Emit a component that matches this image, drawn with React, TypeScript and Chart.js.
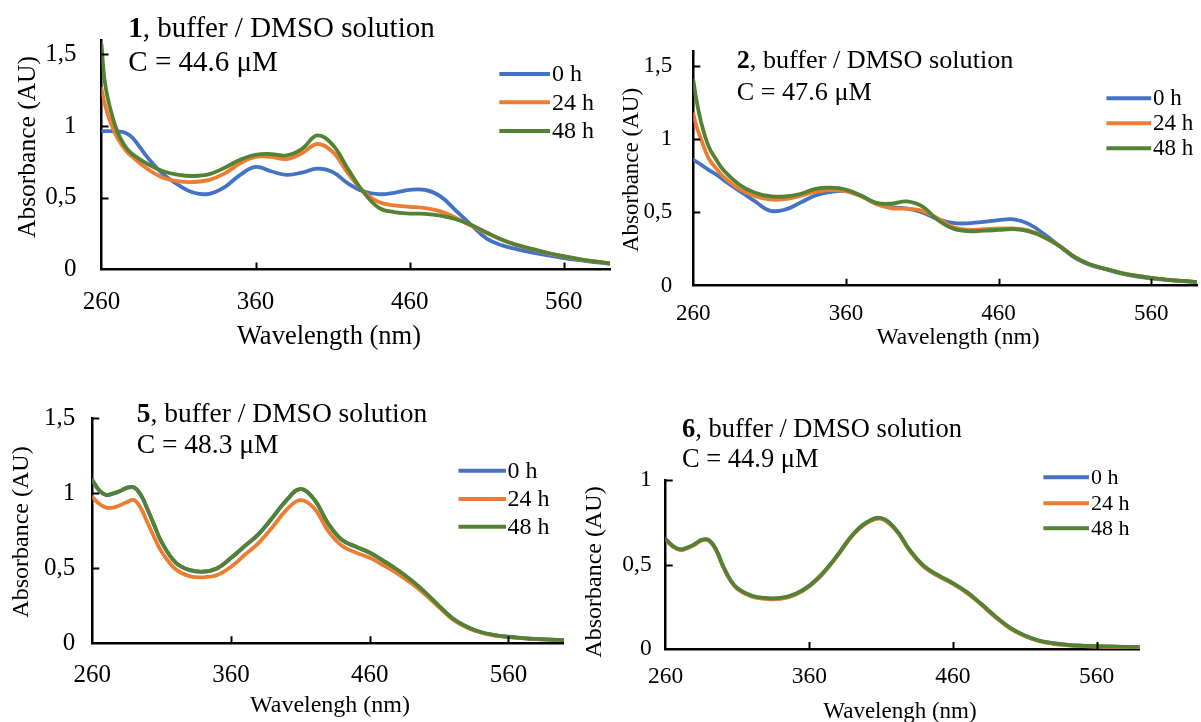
import React, { useEffect, useRef } from "react";
import { Chart, registerables } from "chart.js";

Chart.register(...registerables);

const FONT = '"Liberation Serif", "Times New Roman", serif';

// ---------- shared labels ----------
const SERIES_LABELS = ["0 h", "24 h", "48 h"];
const SERIES_COLORS = ["#4472C4", "#ED7D31", "#548235"];
const X_TICKS = [260, 360, 460, 560];
const Y_TICKS_A = [0, 0.5, 1, 1.5];
const Y_TICKS_B = [0, 0.5, 1];

// ---------- panel 1 ----------
const WL_1 = [260, 262, 265, 270, 275, 280, 290, 300, 310, 320, 330, 340, 350, 360, 370, 380, 390, 400, 410, 420, 430, 440, 450, 460, 470, 480, 490, 500, 510, 520, 530, 540, 550, 560, 570, 580, 590];
const P1_0H = [0.965, 0.965, 0.965, 0.962, 0.955, 0.92, 0.78, 0.665, 0.588, 0.535, 0.528, 0.575, 0.66, 0.715, 0.685, 0.66, 0.675, 0.703, 0.68, 0.6, 0.545, 0.525, 0.535, 0.555, 0.555, 0.51, 0.41, 0.31, 0.215, 0.168, 0.14, 0.117, 0.098, 0.08, 0.065, 0.052, 0.04];
const P1_24H = [1.26, 1.16, 1.05, 0.925, 0.84, 0.785, 0.7, 0.64, 0.615, 0.61, 0.625, 0.67, 0.74, 0.785, 0.785, 0.77, 0.81, 0.875, 0.82, 0.67, 0.545, 0.47, 0.447, 0.437, 0.428, 0.405, 0.36, 0.305, 0.254, 0.205, 0.168, 0.14, 0.113, 0.091, 0.071, 0.056, 0.042];
const P1_48H = [1.57, 1.32, 1.15, 0.97, 0.865, 0.805, 0.735, 0.685, 0.66, 0.652, 0.665, 0.71, 0.765, 0.8, 0.805, 0.795, 0.84, 0.935, 0.87, 0.7, 0.54, 0.43, 0.4, 0.39, 0.388, 0.375, 0.35, 0.31, 0.258, 0.208, 0.17, 0.142, 0.115, 0.093, 0.073, 0.057, 0.043];

// ---------- panel 2 ----------
const WL_2 = [260, 262, 265, 270, 275, 280, 290, 300, 310, 320, 330, 340, 350, 360, 370, 380, 390, 400, 410, 420, 430, 440, 450, 460, 470, 480, 490, 500, 510, 520, 530, 540, 550, 560, 570, 580, 590];
const P2_0H = [0.857, 0.845, 0.825, 0.79, 0.758, 0.72, 0.648, 0.578, 0.512, 0.518, 0.565, 0.615, 0.64, 0.645, 0.61, 0.56, 0.535, 0.525, 0.5, 0.455, 0.428, 0.425, 0.435, 0.447, 0.452, 0.42, 0.35, 0.27, 0.19, 0.142, 0.113, 0.083, 0.063, 0.05, 0.04, 0.032, 0.026];
const P2_24H = [1.17, 1.09, 1.0, 0.87, 0.8, 0.74, 0.66, 0.612, 0.588, 0.59, 0.612, 0.64, 0.652, 0.645, 0.61, 0.555, 0.528, 0.525, 0.51, 0.46, 0.4, 0.382, 0.385, 0.39, 0.39, 0.375, 0.33, 0.27, 0.195, 0.145, 0.115, 0.088, 0.068, 0.053, 0.042, 0.033, 0.026];
const P2_48H = [1.4, 1.27, 1.12, 0.95, 0.86, 0.785, 0.69, 0.635, 0.61, 0.608, 0.625, 0.66, 0.668, 0.655, 0.615, 0.565, 0.56, 0.575, 0.54, 0.45, 0.39, 0.372, 0.375, 0.38, 0.385, 0.37, 0.33, 0.27, 0.195, 0.145, 0.115, 0.088, 0.068, 0.053, 0.042, 0.033, 0.026];

// ---------- panel 5 ----------
const WL_5 = [260, 265, 270, 275, 280, 285, 290, 295, 300, 305, 310, 320, 330, 340, 350, 360, 370, 380, 390, 400, 410, 420, 430, 440, 450, 460, 470, 480, 490, 500, 510, 520, 530, 540, 550, 560, 570, 580, 590, 600];
const P5_0H = [1.085, 1.018, 0.988, 0.998, 1.013, 1.036, 1.038, 0.988, 0.888, 0.778, 0.673, 0.538, 0.488, 0.477, 0.499, 0.568, 0.648, 0.728, 0.838, 0.953, 1.028, 0.958, 0.798, 0.688, 0.643, 0.603, 0.548, 0.488, 0.418, 0.338, 0.248, 0.164, 0.109, 0.074, 0.054, 0.043, 0.034, 0.028, 0.024, 0.021];
const P5_24H = [0.975, 0.93, 0.905, 0.905, 0.92, 0.942, 0.955, 0.9, 0.8, 0.7, 0.61, 0.495, 0.448, 0.44, 0.455, 0.51, 0.59, 0.67, 0.775, 0.89, 0.955, 0.9, 0.75, 0.65, 0.605, 0.57, 0.52, 0.465, 0.4, 0.325, 0.24, 0.158, 0.105, 0.072, 0.052, 0.042, 0.034, 0.028, 0.024, 0.021];
const P5_48H = [1.09, 1.02, 0.99, 1.0, 1.015, 1.038, 1.04, 0.99, 0.89, 0.78, 0.675, 0.54, 0.49, 0.478, 0.5, 0.57, 0.65, 0.73, 0.84, 0.955, 1.03, 0.96, 0.8, 0.69, 0.645, 0.605, 0.55, 0.49, 0.42, 0.34, 0.25, 0.165, 0.11, 0.075, 0.055, 0.044, 0.035, 0.029, 0.025, 0.022];

// ---------- panel 6 ----------
const WL_6 = [260, 265, 270, 275, 280, 285, 290, 295, 300, 305, 310, 320, 330, 340, 350, 360, 370, 380, 390, 400, 410, 420, 430, 440, 450, 460, 470, 480, 490, 500, 510, 520, 530, 540, 550, 560, 570, 580, 590];
const P6_0H = [0.648, 0.608, 0.588, 0.598, 0.618, 0.644, 0.643, 0.588, 0.488, 0.408, 0.358, 0.313, 0.3, 0.3, 0.323, 0.373, 0.453, 0.558, 0.673, 0.748, 0.773, 0.708, 0.583, 0.488, 0.433, 0.388, 0.333, 0.263, 0.188, 0.124, 0.079, 0.049, 0.033, 0.024, 0.019, 0.016, 0.014, 0.012, 0.011];
const P6_24H = [0.646, 0.606, 0.586, 0.596, 0.616, 0.642, 0.641, 0.586, 0.486, 0.405, 0.354, 0.309, 0.296, 0.296, 0.32, 0.37, 0.45, 0.555, 0.67, 0.745, 0.77, 0.705, 0.58, 0.485, 0.43, 0.385, 0.33, 0.26, 0.185, 0.121, 0.077, 0.047, 0.031, 0.022, 0.017, 0.014, 0.012, 0.011, 0.01];
const P6_48H = [0.65, 0.61, 0.59, 0.6, 0.62, 0.646, 0.645, 0.59, 0.49, 0.41, 0.36, 0.315, 0.302, 0.302, 0.325, 0.375, 0.455, 0.56, 0.675, 0.75, 0.775, 0.71, 0.585, 0.49, 0.435, 0.39, 0.335, 0.265, 0.19, 0.125, 0.08, 0.05, 0.034, 0.025, 0.02, 0.017, 0.015, 0.013, 0.012];

// ---------- layout (page coordinates) ----------
type Box = { left: number; top: number; width: number; height: number };
type Area = { left: number; right: number; top: number; bottom: number };
type PanelSpec = {
  id: string;
  canvas: Box;
  area: Area;
  xMax: number;
  yMax: number;
  yTicks: number[];
  wl: number[];
  series: number[][];
  tickSize: number;
  xTickPad: number;
  yTickPad: number;
  title: { num: string; rest: string; line2: string; x: number; y1: number; y2: number; size: number };
  xTitle: { text: string; cx: number; cy: number; size: number };
  yTitle: { text: string; cx: number; cy: number; size: number };
  legend: { x1: number; x2: number; tx: number; ys: number[]; size: number };
};

const PANELS: PanelSpec[] = [
  {
    id: "p1",
    canvas: { left: 0, top: 0, width: 618, height: 365 },
    area: { left: 101.5, right: 610, top: 26.6, bottom: 269.5 },
    xMax: 590, yMax: 1.6, yTicks: Y_TICKS_A,
    wl: WL_1, series: [P1_0H, P1_24H, P1_48H],
    tickSize: 25, xTickPad: 18, yTickPad: 25,
    title: { num: "1", rest: ", buffer / DMSO solution", line2: "C = 44.6 μM", x: 128.3, y1: 36.7, y2: 70.7, size: 29 },
    xTitle: { text: "Wavelength (nm)", cx: 329, cy: 337, size: 26.5 },
    yTitle: { text: "Absorbance (AU)", cx: 28, cy: 147, size: 25.5 },
    legend: { x1: 499.3, x2: 550, tx: 552, ys: [74, 102.3, 131], size: 24 },
  },
  {
    id: "p2",
    canvas: { left: 618, top: 0, width: 583, height: 365 },
    area: { left: 693.3, right: 1197, top: 51, bottom: 285.7 },
    xMax: 590, yMax: 1.6, yTicks: Y_TICKS_A,
    wl: WL_2, series: [P2_0H, P2_24H, P2_48H],
    tickSize: 23, xTickPad: 14, yTickPad: 21,
    title: { num: "2", rest: ", buffer / DMSO solution", line2: "C = 47.6 μM", x: 736.7, y1: 67.5, y2: 100, size: 26.2 },
    xTitle: { text: "Wavelength (nm)", cx: 958, cy: 338, size: 23.5 },
    yTitle: { text: "Absorbance (AU)", cx: 631.7, cy: 170, size: 23 },
    legend: { x1: 1106.4, x2: 1151.2, tx: 1153, ys: [98.3, 123.3, 148.3], size: 23 },
  },
  {
    id: "p5",
    canvas: { left: 0, top: 365, width: 578, height: 357 },
    area: { left: 92.3, right: 563.9, top: 418.3, bottom: 643.3 },
    xMax: 600, yMax: 1.5, yTicks: Y_TICKS_A,
    wl: WL_5, series: [P5_0H, P5_24H, P5_48H],
    tickSize: 25, xTickPad: 16.7, yTickPad: 17,
    title: { num: "5", rest: ", buffer / DMSO solution", line2: "C = 48.3 μM", x: 136.7, y1: 422, y2: 452.5, size: 27.5 },
    xTitle: { text: "Wavelengh (nm)", cx: 330, cy: 706, size: 24 },
    yTitle: { text: "Absorbance (AU)", cx: 21.7, cy: 532, size: 24 },
    legend: { x1: 458.5, x2: 506, tx: 507.5, ys: [470.7, 499, 526.7], size: 24 },
  },
  {
    id: "p6",
    canvas: { left: 578, top: 365, width: 623, height: 357 },
    area: { left: 665.7, right: 1139.6, top: 480, bottom: 649 },
    xMax: 590, yMax: 1, yTicks: Y_TICKS_B,
    wl: WL_6, series: [P6_0H, P6_24H, P6_48H],
    tickSize: 23.5, xTickPad: 14, yTickPad: 14,
    title: { num: "6", rest: ", buffer / DMSO solution", line2: "C = 44.9 μM", x: 682, y1: 436.5, y2: 467, size: 26.5 },
    xTitle: { text: "Wavelengh (nm)", cx: 900, cy: 712, size: 23 },
    yTitle: { text: "Absorbance (AU)", cx: 595, cy: 572, size: 24 },
    legend: { x1: 1043.4, x2: 1089, tx: 1091, ys: [477.3, 503.3, 528.3], size: 22 },
  },
];

const AXIS_COLOR = "#000000";
const TEXT_COLOR = "#000000";
const TICK_LEN = 7;

function buildChart(canvas: HTMLCanvasElement, p: PanelSpec) {
  const c = p.canvas;
  const a = p.area;
  const lx = (x: number) => x - c.left;
  const ly = (y: number) => y - c.top;

  const decor = {
    id: "decor_" + p.id,
    afterDraw(chart: any) {
      const ctx: CanvasRenderingContext2D = chart.ctx;
      const xs = chart.scales.x;
      const ys = chart.scales.y;
      ctx.save();
      // inside tick marks
      ctx.strokeStyle = AXIS_COLOR;
      ctx.lineWidth = 2;
      ctx.beginPath();
      for (const t of xs.ticks) {
        if (t.value <= xs.min) continue;
        const px = Math.round(xs.getPixelForValue(t.value)) + 0.5;
        ctx.moveTo(px, ys.bottom);
        ctx.lineTo(px, ys.bottom - TICK_LEN);
      }
      for (const t of ys.ticks) {
        if (t.value <= ys.min) continue;
        const py = Math.round(ys.getPixelForValue(t.value)) + 0.5;
        ctx.moveTo(xs.left, py);
        ctx.lineTo(xs.left + TICK_LEN, py);
      }
      ctx.stroke();

      ctx.fillStyle = TEXT_COLOR;
      // panel title (bold compound number + text)
      const t = p.title;
      ctx.textAlign = "left";
      ctx.textBaseline = "alphabetic";
      ctx.font = `bold ${t.size}px ${FONT}`;
      ctx.fillText(t.num, lx(t.x), ly(t.y1));
      const w = ctx.measureText(t.num).width;
      ctx.font = `${t.size}px ${FONT}`;
      ctx.fillText(t.rest, lx(t.x) + w, ly(t.y1));
      ctx.fillText(t.line2, lx(t.x), ly(t.y2));

      // axis titles
      ctx.textAlign = "center";
      ctx.textBaseline = "middle";
      ctx.font = `${p.xTitle.size}px ${FONT}`;
      ctx.fillText(p.xTitle.text, lx(p.xTitle.cx), ly(p.xTitle.cy));
      ctx.save();
      ctx.translate(lx(p.yTitle.cx), ly(p.yTitle.cy));
      ctx.rotate(-Math.PI / 2);
      ctx.font = `${p.yTitle.size}px ${FONT}`;
      ctx.fillText(p.yTitle.text, 0, 0);
      ctx.restore();

      // legend
      const L = p.legend;
      ctx.lineWidth = 4;
      ctx.lineCap = "butt";
      ctx.font = `${L.size}px ${FONT}`;
      ctx.textAlign = "left";
      ctx.textBaseline = "middle";
      SERIES_LABELS.forEach((lab, i) => {
        const y = ly(L.ys[i]);
        ctx.strokeStyle = SERIES_COLORS[i];
        ctx.beginPath();
        ctx.moveTo(lx(L.x1), y);
        ctx.lineTo(lx(L.x2), y);
        ctx.stroke();
        ctx.fillStyle = TEXT_COLOR;
        ctx.fillText(lab, lx(L.tx), y + 1);
      });
      ctx.restore();
    },
  };

  const datasets = p.series.map((vals, i) => ({
    label: SERIES_LABELS[i],
    data: p.wl.map((x, j) => ({ x, y: vals[j] })),
    borderColor: SERIES_COLORS[i],
    backgroundColor: SERIES_COLORS[i],
    borderWidth: 3.8,
    pointRadius: 0,
    fill: false,
    tension: 0.4,
    order: SERIES_LABELS.length - 1 - i,
  }));

  return new Chart(canvas, {
    type: "line",
    data: { datasets },
    options: {
      responsive: false,
      animation: false,
      devicePixelRatio: 1,
      events: [],
      layout: {
        padding: {
          left: 0,
          bottom: 0,
          top: a.top - c.top,
          right: c.left + c.width - a.right,
        },
      },
      plugins: {
        legend: { display: false },
        tooltip: { enabled: false },
        title: { display: false },
      },
      elements: { point: { radius: 0, hoverRadius: 0 }, line: { borderCapStyle: "round", borderJoinStyle: "round" } },
      scales: {
        x: {
          type: "linear",
          min: 260,
          max: p.xMax,
          grid: { display: false, drawTicks: false },
          border: { display: true, color: AXIS_COLOR, width: 2.5 },
          ticks: {
            color: TEXT_COLOR,
            font: { family: FONT, size: p.tickSize },
            padding: p.xTickPad,
            maxRotation: 0,
            autoSkip: false,
            callback: (v: any) => String(v),
          },
          afterBuildTicks: (s: any) => {
            s.ticks = X_TICKS.map((v) => ({ value: v }));
          },
          afterFit: (s: any) => {
            s.height = c.top + c.height - a.bottom;
          },
        },
        y: {
          type: "linear",
          min: 0,
          max: p.yMax,
          grid: { display: false, drawTicks: false },
          border: { display: true, color: AXIS_COLOR, width: 2.5 },
          ticks: {
            color: TEXT_COLOR,
            font: { family: FONT, size: p.tickSize },
            padding: p.yTickPad,
            autoSkip: false,
            callback: (v: any) => String(v).replace(".", ","),
          },
          afterBuildTicks: (s: any) => {
            s.ticks = p.yTicks.map((v) => ({ value: v }));
          },
          afterFit: (s: any) => {
            s.width = a.left - c.left;
          },
        },
      },
    },
    plugins: [decor],
  } as any);
}

function PanelChart({ spec }: { spec: PanelSpec }) {
  const ref = useRef<HTMLCanvasElement | null>(null);
  useEffect(() => {
    if (!ref.current) return;
    const chart = buildChart(ref.current, spec);
    return () => chart.destroy();
  }, [spec]);
  const c = spec.canvas;
  return (
    <canvas
      ref={ref}
      width={c.width}
      height={c.height}
      style={{ position: "absolute", left: c.left, top: c.top, width: c.width, height: c.height }}
    />
  );
}

export default function App() {
  return (
    <div style={{ position: "absolute", left: 0, top: 0, width: 1201, height: 722, background: "#ffffff" }}>
      {PANELS.map((p) => (
        <PanelChart key={p.id} spec={p} />
      ))}
    </div>
  );
}
